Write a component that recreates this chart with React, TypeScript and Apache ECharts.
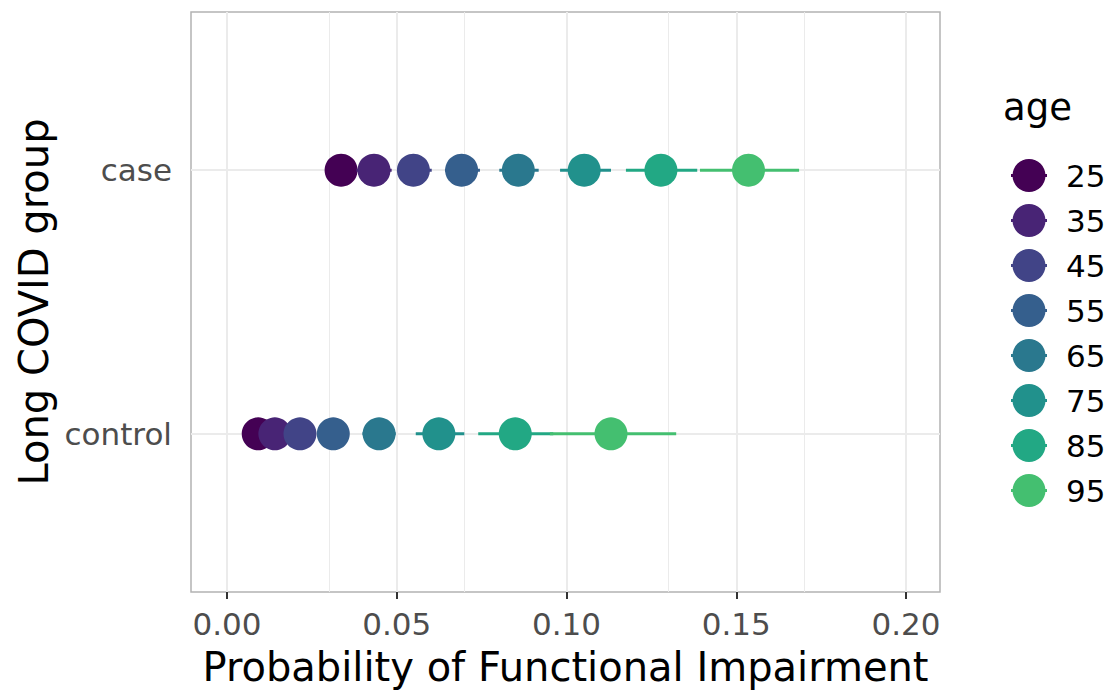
import React, { useEffect, useRef } from "react";
import * as echarts from "echarts";

// Age groups and their viridis colours
const ages = ["25", "35", "45", "55", "65", "75", "85", "95"];
const ageColors = ["#440154", "#482475", "#414487", "#355F8D", "#2A788E", "#21918C", "#22A884", "#44BF70"];

// Row positions on the y scale
const groupNames = ["control", "case"];
const groupPos = [1, 2];

// Estimated probability with interval, Long COVID cases
const caseEst = [0.0336, 0.0433, 0.0549, 0.0691, 0.0858, 0.1052, 0.1278, 0.1536];
const caseLo = [0.0305, 0.0381, 0.0502, 0.0642, 0.0802, 0.0981, 0.1175, 0.1393];
const caseHi = [0.0368, 0.0485, 0.0603, 0.0745, 0.0918, 0.1131, 0.1385, 0.1685];

// Estimated probability with interval, controls
const controlEst = [0.0092, 0.0141, 0.0215, 0.0313, 0.0448, 0.0624, 0.0849, 0.1131];
const controlLo = [0.0075, 0.0118, 0.0185, 0.0275, 0.0399, 0.0556, 0.074, 0.0951];
const controlHi = [0.0112, 0.0168, 0.025, 0.0355, 0.0497, 0.0699, 0.0961, 0.1323];

// Axis breaks
const xMajor = [0, 0.05, 0.1, 0.15, 0.2];
const xMinor = [0.025, 0.075, 0.125, 0.175];

const FONT = "DejaVu Sans";
const ICON =
  "path://M0,16.5 H36 V19.5 H0 Z M1.5,18 A16.5,16.5 0 1 1 34.5,18 A16.5,16.5 0 1 1 1.5,18 Z";

export default function App() {
  const ref = useRef<HTMLDivElement>(null);

  useEffect(() => {
    if (!ref.current) return;
    const chart = echarts.init(ref.current, null, { renderer: "svg" });

    const pointSeries = ages.map((age, i) => ({
      name: age,
      type: "custom",
      z: 10,
      silent: true,
      itemStyle: { color: ageColors[i] },
      encode: { x: [0, 2, 3], y: 1 },
      data: [
        [controlEst[i], groupPos[0], controlLo[i], controlHi[i]],
        [caseEst[i], groupPos[1], caseLo[i], caseHi[i]],
      ],
      renderItem: (_params: any, api: any) => {
        const c = api.coord([api.value(0), api.value(1)]);
        const lo = api.coord([api.value(2), api.value(1)]);
        const hi = api.coord([api.value(3), api.value(1)]);
        return {
          type: "group",
          children: [
            {
              type: "line",
              shape: { x1: lo[0], y1: lo[1], x2: hi[0], y2: hi[1] },
              style: { stroke: ageColors[i], lineWidth: 3 },
            },
            {
              type: "circle",
              shape: { cx: c[0], cy: c[1], r: 16.5 },
              style: { fill: ageColors[i] },
            },
          ],
        };
      },
    }));

    const gridLines = [
      ...xMajor.map((v) => ({ xAxis: v, lineStyle: { width: 2 } })),
      ...xMinor.map((v) => ({ xAxis: v, lineStyle: { width: 1 } })),
      ...groupPos.map((v) => ({ yAxis: v, lineStyle: { width: 2 } })),
    ];

    chart.setOption({
      animation: false,
      backgroundColor: "#ffffff",
      textStyle: { fontFamily: FONT },
      grid: {
        left: 191,
        right: 173,
        top: 12,
        bottom: 101,
        show: true,
        borderColor: "#b3b3b3",
        borderWidth: 1.5,
        backgroundColor: "transparent",
      },
      xAxis: {
        type: "value",
        min: -0.0106,
        max: 0.21,
        splitLine: { show: false },
        axisLine: { show: false },
        axisTick: {
          show: true,
          customValues: xMajor,
          length: 7,
          lineStyle: { color: "#333333", width: 2 },
        },
        axisLabel: {
          customValues: xMajor,
          formatter: (v: number) => v.toFixed(2),
          fontSize: 31,
          color: "#4d4d4d",
          margin: 16,
          fontFamily: FONT,
        },
        name: "Probability of Functional Impairment",
        nameLocation: "middle",
        nameGap: 55,
        nameTextStyle: { fontSize: 40, color: "#000000", fontFamily: FONT },
      },
      yAxis: {
        type: "value",
        min: 0.4,
        max: 2.6,
        splitLine: { show: false },
        axisLine: { show: false },
        axisTick: {
          show: true,
          customValues: groupPos,
          length: 7,
          lineStyle: { color: "#333333", width: 2 },
        },
        axisLabel: {
          customValues: groupPos,
          formatter: (v: number) => groupNames[groupPos.indexOf(Math.round(v))] ?? "",
          fontSize: 31,
          color: "#4d4d4d",
          margin: 19,
          fontFamily: FONT,
        },
        name: "Long COVID group",
        nameLocation: "middle",
        nameRotate: 90,
        nameGap: 133,
        nameTextStyle: { fontSize: 40, color: "#000000", fontFamily: FONT },
      },
      legend: {
        orient: "vertical",
        left: 1006,
        top: 154,
        itemWidth: 36,
        itemHeight: 36,
        itemGap: 12,
        selectedMode: false,
        textStyle: { fontSize: 31, color: "#000000", fontFamily: FONT, padding: [0, 0, 0, 14] },
        data: ages.map((a) => ({ name: a, icon: ICON })),
      },
      graphic: [
        {
          type: "text",
          left: 1003,
          top: 89,
          style: { text: "age", fontSize: 37, fill: "#000000", fontFamily: FONT },
        },
      ],
      series: [
        {
          type: "line",
          name: "grid",
          z: 1,
          silent: true,
          data: [],
          markLine: {
            z: 1,
            silent: true,
            symbol: ["none", "none"],
            label: { show: false },
            lineStyle: { color: "#ebebeb", type: "solid" },
            emphasis: { disabled: true },
            data: gridLines,
          },
        },
        ...pointSeries,
      ],
    });

    return () => chart.dispose();
  }, []);

  return (
    <div
      ref={ref}
      style={{ position: "fixed", left: 0, top: 0, width: 1113, height: 693, background: "#fff" }}
    />
  );
}
